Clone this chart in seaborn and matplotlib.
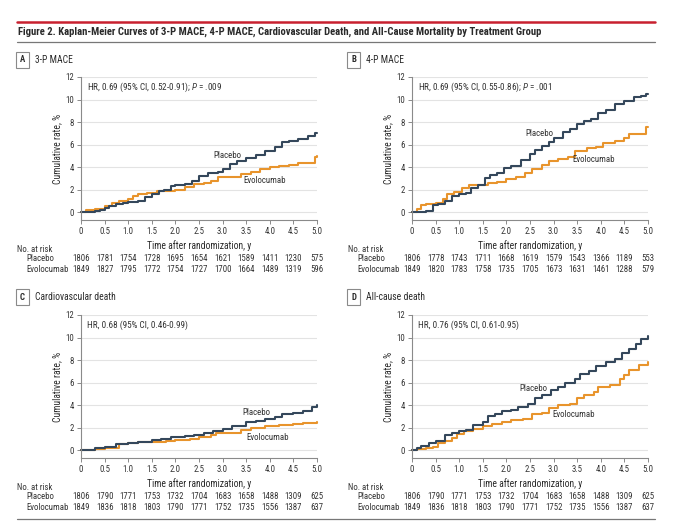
import matplotlib
matplotlib.use("Agg")
import matplotlib.pyplot as plt
import matplotlib.transforms as mtransforms
from matplotlib import font_manager
from matplotlib.lines import Line2D
import seaborn as sns
import pandas as pd

# ---- data ----
years = [0, 0.5, 1.0, 1.5, 2.0, 2.5, 3.0, 3.5, 4.0, 4.5, 5.0]

# A: 3-P MACE
a_pbo_t = [0, 0.3, 0.4, 0.5, 0.6, 0.75, 0.9, 1.0, 1.2, 1.35, 1.5, 1.65, 1.75, 1.9, 2.0, 2.2, 2.35, 2.5, 2.7, 2.9, 3.0, 3.15, 3.3, 3.5, 3.7, 3.9, 4.1, 4.25, 4.4, 4.6, 4.8, 4.95, 5.0]
a_pbo_v = [0, 0.1, 0.2, 0.4, 0.5, 0.7, 0.8, 0.9, 1.0, 1.3, 1.6, 1.9, 2.0, 2.3, 2.4, 2.5, 2.8, 3.2, 3.5, 3.6, 3.8, 4.3, 4.5, 4.8, 5.1, 5.4, 5.8, 6.2, 6.3, 6.5, 6.8, 7.0, 7.0]
a_evo_t = [0, 0.1, 0.3, 0.5, 0.65, 0.8, 1.0, 1.1, 1.2, 1.4, 1.6, 1.8, 2.0, 2.2, 2.4, 2.6, 2.75, 2.9, 3.2, 3.4, 3.6, 3.8, 4.0, 4.2, 4.4, 4.6, 4.9, 4.95, 5.0]
a_evo_v = [0, 0.2, 0.3, 0.5, 0.8, 1.0, 1.2, 1.4, 1.6, 1.7, 1.9, 1.9, 2.0, 2.2, 2.5, 2.6, 2.8, 3.1, 3.1, 3.4, 3.6, 3.8, 4.0, 4.1, 4.2, 4.35, 4.4, 4.9, 5.0]
a_risk_pbo = [1806, 1781, 1754, 1728, 1695, 1654, 1621, 1589, 1411, 1230, 575]
a_risk_evo = [1849, 1827, 1795, 1772, 1754, 1727, 1700, 1664, 1489, 1319, 596]

# B: 4-P MACE
b_pbo_t = [0, 0.3, 0.45, 0.55, 0.7, 0.85, 1.0, 1.15, 1.25, 1.4, 1.55, 1.65, 1.8, 1.95, 2.1, 2.3, 2.5, 2.6, 2.75, 2.9, 3.0, 3.2, 3.35, 3.5, 3.65, 3.8, 3.95, 4.1, 4.3, 4.5, 4.7, 4.85, 4.95, 5.0]
b_pbo_v = [0, 0.1, 0.6, 0.7, 1.0, 1.4, 1.6, 1.7, 2.1, 2.4, 3.0, 3.3, 3.5, 3.9, 4.1, 4.6, 5.2, 5.5, 5.9, 6.2, 6.6, 7.1, 7.4, 7.8, 8.1, 8.3, 8.8, 9.1, 9.6, 9.9, 10.2, 10.3, 10.5, 10.5]
b_evo_t = [0, 0.1, 0.2, 0.3, 0.5, 0.65, 0.75, 0.9, 1.05, 1.2, 1.4, 1.6, 1.8, 2.0, 2.2, 2.4, 2.55, 2.75, 2.9, 3.1, 3.3, 3.45, 3.7, 3.9, 4.05, 4.3, 4.5, 4.6, 4.9, 4.95, 5.0]
b_evo_v = [0, 0.3, 0.6, 0.7, 0.8, 1.2, 1.6, 1.8, 2.1, 2.4, 2.4, 2.6, 2.7, 2.9, 3.1, 3.5, 3.8, 4.2, 4.5, 4.7, 4.9, 5.4, 5.7, 5.8, 6.1, 6.3, 6.6, 6.9, 6.9, 7.6, 7.6]
b_risk_pbo = [1806, 1778, 1743, 1711, 1668, 1619, 1579, 1543, 1366, 1189, 553]
b_risk_evo = [1849, 1820, 1783, 1758, 1735, 1705, 1673, 1631, 1461, 1288, 579]

# C: cardiovascular death
c_pbo_t = [0, 0.3, 0.5, 0.75, 1.0, 1.2, 1.5, 1.7, 1.9, 2.2, 2.4, 2.6, 2.8, 3.0, 3.2, 3.35, 3.5, 3.7, 3.9, 4.1, 4.25, 4.5, 4.7, 4.9, 5.0]
c_pbo_v = [0, 0.2, 0.3, 0.5, 0.6, 0.7, 0.9, 1.0, 1.2, 1.25, 1.3, 1.5, 1.7, 1.9, 2.1, 2.1, 2.5, 2.6, 2.8, 2.9, 3.2, 3.3, 3.5, 3.8, 4.0]
c_evo_t = [0, 0.3, 0.5, 0.8, 1.0, 1.2, 1.5, 1.8, 2.0, 2.3, 2.5, 2.75, 2.85, 3.2, 3.4, 3.6, 3.9, 4.2, 4.5, 4.7, 5.0]
c_evo_v = [0, 0.1, 0.2, 0.5, 0.6, 0.7, 0.75, 0.8, 0.9, 1.0, 1.2, 1.3, 1.5, 1.55, 1.8, 2.0, 2.1, 2.2, 2.3, 2.45, 2.5]
c_risk_pbo = [1806, 1790, 1771, 1753, 1732, 1704, 1683, 1658, 1488, 1309, 625]
c_risk_evo = [1849, 1836, 1818, 1803, 1790, 1771, 1752, 1735, 1556, 1387, 637]

# D: all-cause death
d_pbo_t = [0, 0.1, 0.2, 0.35, 0.5, 0.6, 0.7, 0.85, 1.0, 1.15, 1.3, 1.5, 1.6, 1.75, 1.9, 2.1, 2.25, 2.45, 2.6, 2.75, 2.95, 3.1, 3.25, 3.45, 3.55, 3.75, 3.9, 4.1, 4.3, 4.45, 4.6, 4.75, 4.85, 5.0]
d_pbo_v = [0, 0.2, 0.4, 0.6, 0.8, 0.8, 1.3, 1.5, 1.7, 1.8, 2.2, 2.5, 3.0, 3.2, 3.5, 3.6, 3.8, 4.1, 4.6, 4.9, 5.3, 5.6, 6.0, 6.3, 6.8, 7.0, 7.5, 7.8, 8.1, 8.6, 9.0, 9.4, 9.9, 10.1]
d_evo_t = [0, 0.1, 0.3, 0.45, 0.55, 0.7, 0.85, 0.95, 1.1, 1.3, 1.5, 1.7, 1.9, 2.1, 2.35, 2.55, 2.75, 2.9, 3.1, 3.35, 3.5, 3.65, 3.85, 3.95, 4.2, 4.4, 4.5, 4.6, 4.8, 5.0]
d_evo_v = [0, 0.1, 0.2, 0.3, 0.6, 0.8, 1.1, 1.4, 1.7, 1.9, 2.1, 2.3, 2.5, 2.7, 2.8, 3.2, 3.3, 3.7, 4.0, 4.1, 4.6, 4.9, 5.2, 5.6, 5.8, 6.3, 6.7, 7.1, 7.6, 7.8]
d_risk_pbo = [1806, 1790, 1771, 1753, 1732, 1704, 1683, 1658, 1488, 1309, 625]
d_risk_evo = [1849, 1836, 1818, 1803, 1790, 1771, 1752, 1735, 1556, 1387, 637]

TITLE = ("Figure 2. Kaplan-Meier Curves of 3-P MACE, 4-P MACE, Cardiovascular Death, "
         "and All-Cause Mortality by Treatment Group")

PBO = "#34475b"
EVO = "#e8942c"
GRAY = "#8a8a8a"
TXT = "#2a2a2a"

# pick the narrowest family that is actually installed
family = "DejaVu Sans"
for name in ["Liberation Sans Narrow", "Roboto Condensed", "Roboto", "Liberation Sans"]:
    try:
        font_manager.findfont(font_manager.FontProperties(family=name), fallback_to_default=False)
        family = name
        break
    except ValueError:
        pass

sns.set_theme(style="white")
plt.rcParams["font.family"] = [family, "DejaVu Sans"]
plt.rcParams["mathtext.fontset"] = "custom"
plt.rcParams["mathtext.it"] = family + ":italic"
plt.rcParams["mathtext.rm"] = family

fig = plt.figure(figsize=(6.8, 5.25), dpi=100)
renderer = fig.canvas.get_renderer()
W, H = 680.0, 525.0


def fx(px):
    return px / W


def fy(py):
    return 1 - py / H


def size_for(s, px, **kw):
    # font size that gives string s a width of about px pixels
    t = fig.text(0, 0, s, fontsize=10, **kw)
    w = t.get_window_extent(renderer).width
    t.remove()
    return 10 * px / w


title_fs = min(size_for(TITLE, 521, fontweight="bold"), 7.8)
hdr_fs = min(size_for("3-P MACE", 38), 7.5)
hr_fs = min(size_for("HR, 0.69 (95% CI, 0.52-0.91); P = .009", 134), 7.1)
lab_fs = min(size_for("Evolocumab", 43), 7.1)
num_fs = min(size_for("1806", 17), 7.1)
xl_fs = min(size_for("Time after randomization, y", 104), 7.4)

panels = [
    dict(letter="A", name="3-P MACE", left=81, top=77, hdr=(17, 60),
         hr="HR, 0.69 (95% CI, 0.52-0.91); $P$ = .009",
         pbo=(a_pbo_t, a_pbo_v), evo=(a_evo_t, a_evo_v),
         risk=(a_risk_pbo, a_risk_evo), lab_pbo=(2.8, 5.0), lab_evo=(3.45, 2.85)),
    dict(letter="B", name="4-P MACE", left=412, top=77, hdr=(348, 60),
         hr="HR, 0.69 (95% CI, 0.55-0.86); $P$ = .001",
         pbo=(b_pbo_t, b_pbo_v), evo=(b_evo_t, b_evo_v),
         risk=(b_risk_pbo, b_risk_evo), lab_pbo=(2.41, 7.0), lab_evo=(3.39, 4.7)),
    dict(letter="C", name="Cardiovascular death", left=81, top=315, hdr=(17, 297),
         hr="HR, 0.68 (95% CI, 0.46-0.99)",
         pbo=(c_pbo_t, c_pbo_v), evo=(c_evo_t, c_evo_v),
         risk=(c_risk_pbo, c_risk_evo), lab_pbo=(3.41, 3.3), lab_evo=(3.51, 1.15)),
    dict(letter="D", name="All-cause death", left=412, top=315, hdr=(348, 297),
         hr="HR, 0.76 (95% CI, 0.61-0.95)",
         pbo=(d_pbo_t, d_pbo_v), evo=(d_evo_t, d_evo_v),
         risk=(d_risk_pbo, d_risk_evo), lab_pbo=(2.27, 5.5), lab_evo=(2.97, 3.2)),
]

ax_w, ax_h = 236, 143
px_per_year = ax_w / 5.0

for p in panels:
    ax = fig.add_axes([fx(p["left"]), fy(p["top"] + ax_h), ax_w / W, ax_h / H])
    ax.set_xlim(0, 5)
    ax.set_ylim(-0.7, 12)
    ax.set_yticks(range(0, 13, 2))
    ax.set_xticks(years)
    ax.set_xticklabels(["0"] + [f"{y:.1f}" for y in years[1:]])
    ax.grid(axis="y", color="#e3e3e3", lw=0.8)
    ax.set_axisbelow(True)
    for s in ["top", "right"]:
        ax.spines[s].set_visible(False)
    for s in ["left", "bottom"]:
        ax.spines[s].set_color(GRAY)
        ax.spines[s].set_linewidth(0.8)
    ax.tick_params(axis="both", which="both", length=3, width=0.7, color=GRAY,
                   labelsize=num_fs, labelcolor="#333333", pad=2, direction="out",
                   bottom=True, left=True)

    df_p = pd.DataFrame({"t": p["pbo"][0], "v": p["pbo"][1]})
    df_e = pd.DataFrame({"t": p["evo"][0], "v": p["evo"][1]})
    sns.lineplot(data=df_e, x="t", y="v", ax=ax, color=EVO, lw=1.5,
                 drawstyle="steps-post", estimator=None, sort=False, clip_on=False)
    sns.lineplot(data=df_p, x="t", y="v", ax=ax, color=PBO, lw=1.5,
                 drawstyle="steps-post", estimator=None, sort=False, clip_on=False)

    ax.set_xlabel("Time after randomization, y", fontsize=xl_fs, color=TXT, labelpad=3)
    ax.set_ylabel("Cumulative rate, %", fontsize=xl_fs, color=TXT, labelpad=2.5)

    ax.text(6 / ax_w, 0.93, p["hr"], transform=ax.transAxes, fontsize=hr_fs,
            color="#333333", va="center", ha="left")
    ax.text(p["lab_pbo"][0], p["lab_pbo"][1], "Placebo", fontsize=lab_fs, color="#333333",
            va="center", ha="left")
    ax.text(p["lab_evo"][0], p["lab_evo"][1], "Evolocumab", fontsize=lab_fs, color="#333333",
            va="center", ha="left")

    # number at risk table
    trans = mtransforms.blended_transform_factory(ax.transData, ax.transAxes)
    ax.text(-64 / px_per_year, -29 / ax_h, "No. at risk", transform=trans, fontsize=num_fs,
            color="#333333", ha="left", va="center", clip_on=False)
    for row, (lab, vals) in enumerate(zip(["Placebo", "Evolocumab"], p["risk"])):
        yy = -(38.5 + 10.5 * row) / ax_h
        ax.text(-55 / px_per_year, yy, lab, transform=trans, fontsize=num_fs, color="#333333",
                ha="left", va="center", clip_on=False)
        for x, n in zip(years, vals):
            ax.text(x, yy, str(n), transform=trans, fontsize=num_fs, color="#333333",
                    ha="center", va="center", clip_on=False)

    # panel header
    hx, hy = p["hdr"]
    fig.text(fx(hx + 5.5), fy(hy), p["letter"], fontsize=hdr_fs * 0.9, fontweight="bold",
             ha="center", va="center", color=TXT,
             bbox=dict(boxstyle="square,pad=0.45", fc="white", ec=GRAY, lw=0.8))
    fig.text(fx(hx + 18), fy(hy), p["name"], fontsize=hdr_fs, ha="left", va="center",
             color=TXT)

# title and rules
fig.add_artist(Line2D([fx(17), fx(655)], [fy(22), fy(22)], color="#c8202f", lw=1.8))
fig.add_artist(Line2D([fx(17), fx(655)], [fy(42), fy(42)], color="#777777", lw=0.9))
fig.add_artist(Line2D([fx(17), fx(655)], [fy(519), fy(519)], color="#777777", lw=0.9))
fig.text(fx(18), fy(32), TITLE, fontsize=title_fs, fontweight="bold",
         ha="left", va="center", color=TXT)

fig.savefig("out.png", dpi=100)
